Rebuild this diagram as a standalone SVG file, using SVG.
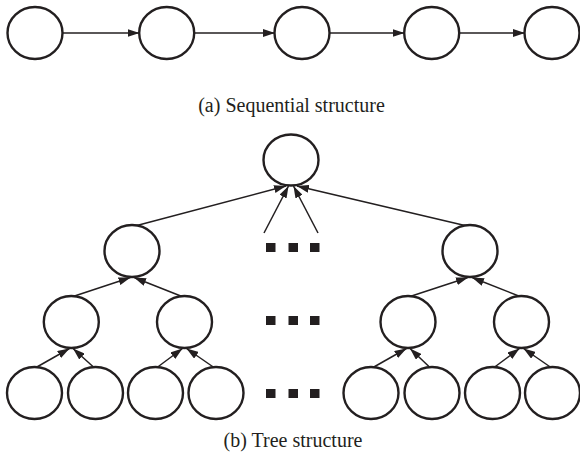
<svg xmlns="http://www.w3.org/2000/svg" width="580" height="460" viewBox="0 0 580 460">
  <style>
    .node { fill: #fff; stroke: #231f20; stroke-width: 2.4; }
    .edge { stroke: #231f20; stroke-width: 1.5; fill: none; marker-end: url(#arrow); }
    .dot { fill: #231f20; }
    .caption { font-family: "Liberation Serif", "Times New Roman", serif; font-size: 20px; fill: #231f20; text-anchor: middle; }
  </style>
  <defs>
    <marker id="arrow" markerUnits="userSpaceOnUse" markerWidth="12" markerHeight="8" refX="12" refY="4" orient="auto">
      <path d="M0,0 L12,4 L0,8 z" fill="#231f20"/>
    </marker>
  </defs>
  <rect width="580" height="460" fill="#fff"/>

  <!-- connectors -->
  <g id="connectors">
    <!-- sequential chain -->
    <line class="edge" x1="62.5" y1="33" x2="139.5" y2="33"/>
    <line class="edge" x1="194" y1="33" x2="275" y2="33"/>
    <line class="edge" x1="329.5" y1="33" x2="404.5" y2="33"/>
    <line class="edge" x1="459" y1="33" x2="525" y2="33"/>
    <!-- tree: level 2 to root -->
    <line class="edge" x1="135" y1="226" x2="286" y2="186"/>
    <line class="edge" x1="467" y1="226" x2="297" y2="186"/>
    <line class="edge" x1="264" y1="233" x2="288.5" y2="186"/>
    <line class="edge" x1="318" y1="233" x2="293.5" y2="186"/>
    <!-- tree: level 3 to level 2 -->
    <line class="edge" x1="73" y1="296.5" x2="130.5" y2="277.5"/>
    <line class="edge" x1="182" y1="296.5" x2="134" y2="277.5"/>
    <line class="edge" x1="410" y1="296.5" x2="468" y2="277.5"/>
    <line class="edge" x1="520" y1="296.5" x2="472" y2="277.5"/>
    <!-- tree: level 4 to level 3 -->
    <line class="edge" x1="36" y1="367.5" x2="69.5" y2="348.5"/>
    <line class="edge" x1="94" y1="367.5" x2="73" y2="348.5"/>
    <line class="edge" x1="157" y1="367.5" x2="182.5" y2="348.5"/>
    <line class="edge" x1="214" y1="367.5" x2="186.5" y2="348.5"/>
    <line class="edge" x1="373" y1="367.5" x2="406.5" y2="348.5"/>
    <line class="edge" x1="430" y1="367.5" x2="410" y2="348.5"/>
    <line class="edge" x1="494" y1="367.5" x2="519.5" y2="348.5"/>
    <line class="edge" x1="551" y1="367.5" x2="523.5" y2="348.5"/>
  </g>

  <!-- sequential structure -->
  <g id="seq1"><ellipse class="node" cx="35" cy="33" rx="27.5" ry="26"/></g>
  <g id="seq2"><ellipse class="node" cx="166.7" cy="33" rx="27.5" ry="26"/></g>
  <g id="seq3"><ellipse class="node" cx="302" cy="33" rx="27.5" ry="26"/></g>
  <g id="seq4"><ellipse class="node" cx="431.7" cy="33" rx="27.5" ry="26"/></g>
  <g id="seq5"><ellipse class="node" cx="552" cy="33" rx="27.5" ry="26"/></g>
  <text class="caption" x="291.5" y="112">(a) Sequential structure</text>

  <!-- tree structure -->
  <g id="root"><ellipse class="node" cx="291" cy="160" rx="27.5" ry="25.5"/></g>
  <g id="l2a"><ellipse class="node" cx="132" cy="251" rx="27.5" ry="26"/></g>
  <g id="l2b"><ellipse class="node" cx="470" cy="251" rx="27.5" ry="26"/></g>
  <g id="l3a"><ellipse class="node" cx="71.3" cy="322" rx="27.5" ry="26"/></g>
  <g id="l3b"><ellipse class="node" cx="184.5" cy="322" rx="27.5" ry="26"/></g>
  <g id="l3c"><ellipse class="node" cx="408" cy="322" rx="27.5" ry="26"/></g>
  <g id="l3d"><ellipse class="node" cx="521.5" cy="322" rx="27.5" ry="26"/></g>
  <g id="l4a"><ellipse class="node" cx="34.5" cy="393" rx="27.5" ry="26"/></g>
  <g id="l4b"><ellipse class="node" cx="95.5" cy="393" rx="27.5" ry="26"/></g>
  <g id="l4c"><ellipse class="node" cx="155.5" cy="393" rx="27.5" ry="26"/></g>
  <g id="l4d"><ellipse class="node" cx="216" cy="393" rx="27.5" ry="26"/></g>
  <g id="l4e"><ellipse class="node" cx="371" cy="393" rx="27.5" ry="26"/></g>
  <g id="l4f"><ellipse class="node" cx="432" cy="393" rx="27.5" ry="26"/></g>
  <g id="l4g"><ellipse class="node" cx="492.5" cy="393" rx="27.5" ry="26"/></g>
  <g id="l4h"><ellipse class="node" cx="552.5" cy="393" rx="27.5" ry="26"/></g>

  <!-- ellipsis marks -->
  <g id="ellipsis">
    <rect class="dot" x="266" y="243" width="9.5" height="9"/>
    <rect class="dot" x="288.5" y="243" width="9.5" height="9"/>
    <rect class="dot" x="310" y="243" width="9.5" height="9"/>
    <rect class="dot" x="266" y="316" width="9.5" height="9"/>
    <rect class="dot" x="288.5" y="316" width="9.5" height="9"/>
    <rect class="dot" x="310" y="316" width="9.5" height="9"/>
    <rect class="dot" x="266" y="389" width="9.5" height="9"/>
    <rect class="dot" x="288.5" y="389" width="9.5" height="9"/>
    <rect class="dot" x="310" y="389" width="9.5" height="9"/>
  </g>

  <text class="caption" x="293" y="447">(b) Tree structure</text>
</svg>
